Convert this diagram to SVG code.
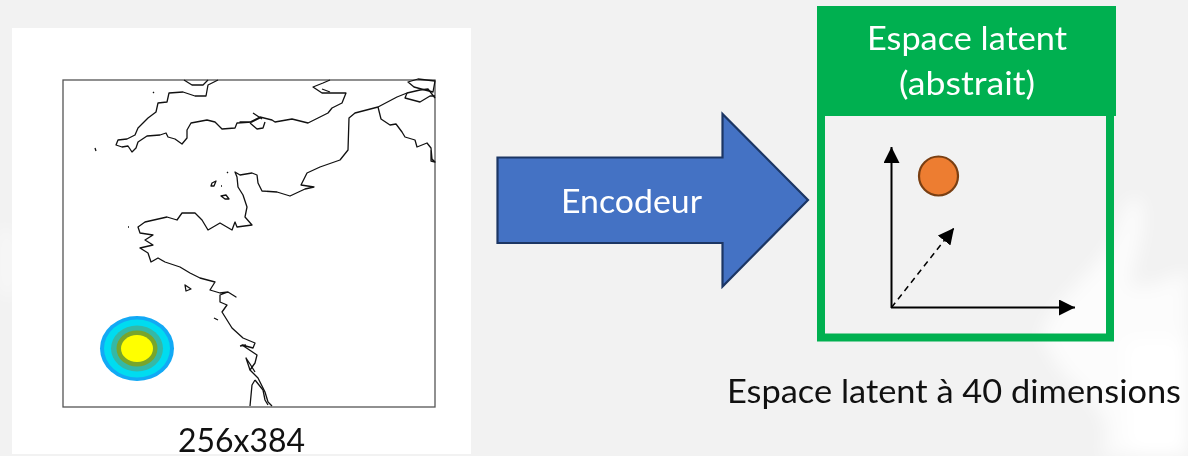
<svg xmlns="http://www.w3.org/2000/svg" width="1188" height="456" viewBox="0 0 1188 456">
<style>
.t{font-family:Lato,"Open Sans","Liberation Sans",sans-serif;font-size:32px}
.w{fill:#fff}.k{fill:#111}
.coast{fill:none;stroke:#111;stroke-width:1.3;stroke-linejoin:round}
.axis{stroke:#000;stroke-width:2;fill:none}
</style>
<defs>
<filter id="b" x="-30%" y="-30%" width="160%" height="160%"><feGaussianBlur stdDeviation="9"/></filter>
<marker id="ah" markerUnits="userSpaceOnUse" markerWidth="16" markerHeight="16" refX="16" refY="8" orient="auto"><path d="M0 0L16 8L0 16Z" fill="#000"/></marker>
</defs>
<g id="background">
<rect width="1188" height="456" fill="#f2f2f2"/>
<g fill="#fff" filter="url(#b)">
<path d="M1040 335C1060 290 1100 270 1115 235C1125 200 1135 190 1140 200C1150 225 1135 255 1130 285C1150 290 1175 275 1188 270V456H1100C1120 420 1090 400 1060 370Z" opacity=".75"/>
<path d="M1125 340H1188V456H1130Z"/>
<path d="M0 225L14 235V300L0 290Z" opacity=".6"/>
</g>
</g>
<g id="map-panel">
<rect x="12" y="28" width="459" height="426" fill="#fff"/>
<rect x="63" y="80" width="372" height="327" fill="#fff" stroke="#555" stroke-width="1.3"/>
<g id="storm">
<ellipse cx="137" cy="348.5" rx="37" ry="32.5" fill="#12a9f5"/>
<ellipse cx="137" cy="348.5" rx="33" ry="29" fill="#00dcf0"/>
<ellipse cx="137" cy="348.5" rx="26" ry="23" fill="#35b8a6"/>
<ellipse cx="137" cy="348.5" rx="20.5" ry="18" fill="#78a52c"/>
<ellipse cx="137" cy="348.5" rx="16" ry="13.5" fill="#ff0"/>
</g>
<g id="coastline" class="coast">
<path d="M218 80L208 85L206 96L195 96L183 92L169 93L167 102L158 103L156 112L148 118L143 123L138 128L135 135L127 139L118 140L116 145L122 147L128 146L132 152L136 148L138 142L147 136L160 135L166 133L168 137L175 139L182 144L187 138L187 130L191 123L207 120L215 122L222 129L235 128L237 123L252 122L260 118L250 122L240 122L250 122L260 117L272 120L275 122L292 119L308 123L318 118L328 113L332 108L342 103L346 93L330 93L322 93L313 87L323 83L330 80"/>
<path d="M253 113L262 119M250 123L257 129L263 128L265 122M322 89L330 92M184 80L192 85L203 85L208 80"/>
<path d="M435 98L428 89L420 90L407 93L397 97L378 107L355 113L349 118L348 150L340 160L320 167L307 173L301 185L314 187L305 189L290 196L277 192L262 191L258 183L257 175L252 173L240 175L235 172L237 177L238 187L243 195L247 207L245 217L252 225L237 227L235 222L232 230L220 223L208 230L202 220L195 213L182 213L177 220L167 217L145 222L138 227L140 233L153 235L145 240L153 245L140 248L148 253L151 262L158 258L165 262L180 267L185 270L190 273L200 278L215 282L210 290L220 293L228 292L236 297L228 292L220 295L220 302L227 305L222 312L232 328L243 338L255 343L253 348L242 345L257 355L255 363L250 370L258 378L265 392L268 402L272 406"/>
<path d="M378 107L381 119L390 125L396 124L402 132L405 137L415 140L417 147L427 143L431 148L432 159L435 162L431 161L431 150"/>
<path d="M255 380L252 385L250 406M255 380L263 390L265 400L268 405"/>
<path d="M407 93L405 98L420 102L430 96L435 96M408 82L418 79L435 81L433 92L425 90L414 87Z"/>
<path d="M250 370L246 358L250 364L255 372M214 283"/>
<path d="M185 285L191 289L186 291ZM214 318L218 320M246 345L240 346"/>
<path d="M95 148L96 151M153 92L154 93M227 172L228 173M212 183L216 181L214 186L211 186ZM221 196L226 195L229 199L225 199ZM128 227L129 227M221 186L222 186"/>
</g>
<text class="t k" x="178" y="452" textLength="127" lengthAdjust="spacingAndGlyphs">256x384</text>
</g>
<g id="encodeur">
<path d="M497.500 157.500H722.500V114L808 200L722.500 286.500V243H497.500Z" fill="#4472c4" stroke="#1c3664" stroke-width="2.200"/>
<text class="t w" x="561" y="213" textLength="141" lengthAdjust="spacingAndGlyphs">Encodeur</text>
</g>
<g id="latent-space">
<rect x="821" y="110" width="289" height="227.500" fill="none" stroke="#00b050" stroke-width="8"/>
<rect x="817" y="6" width="299" height="110" fill="#00b050"/>
<text class="t w" x="867" y="50" textLength="200" lengthAdjust="spacingAndGlyphs">Espace latent</text>
<text class="t w" x="899" y="95" textLength="136" lengthAdjust="spacingAndGlyphs">(abstrait)</text>
</g>
<g id="connectors">
<path class="axis" d="M891.500 308V147" marker-end="url(#ah)"/>
<path class="axis" d="M891 307.500H1075" marker-end="url(#ah)"/>
<path class="axis" style="stroke-width:1.500" stroke-dasharray="6 4.500" d="M891.500 307.500L954 228" marker-end="url(#ah)"/>
</g>
<g id="point"><circle cx="938.500" cy="176" r="19.500" fill="#ed7d31" stroke="#7a3f12" stroke-width="2.200"/></g>
<g id="caption"><text class="t k" x="727" y="403" textLength="454" lengthAdjust="spacingAndGlyphs">Espace latent à 40 dimensions</text></g>
</svg>
